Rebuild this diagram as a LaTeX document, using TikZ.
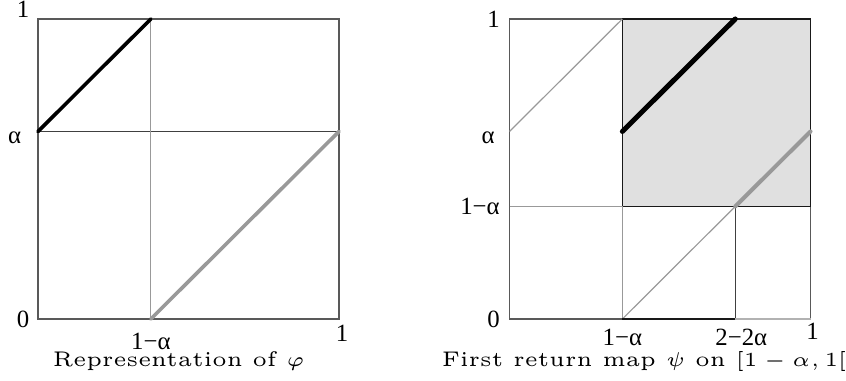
\documentclass[tikz,border=0pt]{standalone}
\usepackage{fontspec}
\newfontfamily\labfont{Liberation Serif}
\usetikzlibrary{positioning}

\begin{document}
\begin{tikzpicture}[
		x=0.25pt, y=0.25pt,
		frame/.style={draw=black!65, line width=.3pt},
		guide/.style={draw=black!40, line width=.3pt},
		darkguide/.style={draw=black!75, line width=.3pt},
		upper/.style={draw=black, line width=.9pt, line cap=round},
		lower/.style={draw=black!40, line width=.9pt, line cap=round},
		shade/.style={fill=black!12, draw=black!90, line width=.3pt},
		tick/.style={inner sep=0pt, font=\fontsize{6.2}{7}\selectfont\labfont},
		caption/.style={inner sep=0pt, anchor=base west, font=\fontsize{5.3}{6}\selectfont}
		]
		\useasboundingbox (0,0) rectangle (846,381);
		
		% representation of phi
		\begin{scope}[shift={(38,62)}, x=75.25pt, y=75pt]
			\coordinate (l00) at (0,0);
			\coordinate (l10) at (1,0);
			\coordinate (l01) at (0,1);
			\coordinate (l11) at (1,1);
			\coordinate (l0a) at (0,0.625);
			\coordinate (l1a) at (1,0.625);
			\coordinate (lc0) at (0.375,0);
			\coordinate (lc1) at (0.375,1);
			
			\draw[frame] (l00) rectangle (l11);
			\draw[darkguide] (l0a) -- (l1a);
			\draw[guide] (lc0) -- (lc1);
			\draw[upper] (l0a) -- (lc1);
			\draw[lower] (lc0) -- (l1a);
			
			\node[tick, above left=0.25pt and 2pt of l01] (ly1) {1};
			\node[tick, below left=0pt and 4pt of l0a] (lya) {α};
			\node[tick, left=2pt of l00] (ly0) {0};
			\node[tick, below=3.25pt of lc0] (lxc) {1−α};
			\node[tick, below=1.25pt of l10, xshift=.75pt] (lx1) {1};
		\end{scope}
		
		% first return map psi
		\begin{scope}[shift={(509.5,62)}, x=75.25pt, y=75pt]
			\coordinate (r00) at (0,0);
			\coordinate (r10) at (1,0);
			\coordinate (r01) at (0,1);
			\coordinate (r11) at (1,1);
			\coordinate (r0a) at (0,0.625);
			\coordinate (r0b) at (0,0.375);
			\coordinate (r1a) at (1,0.625);
			\coordinate (rc0) at (0.375,0);
			\coordinate (rcb) at (0.375,0.375);
			\coordinate (rca) at (0.375,0.625);
			\coordinate (rc1) at (0.375,1);
			\coordinate (rd0) at (0.75,0);
			\coordinate (rdb) at (0.75,0.375);
			\coordinate (rd1) at (0.75,1);
			
			\draw[frame] (r00) rectangle (r11);
			\draw[shade] (rcb) rectangle (r11);
			\draw[guide] (r0a) -- (rc1);
			\draw[guide] (r0b) -- (rcb);
			\draw[guide] (rc0) -- (rcb);
			\draw[guide] (rc0) -- (rdb);
			\draw[darkguide] (rd0) -- (rdb);
			\draw[upper, line width=1.25pt] (rca) -- (rd1);
			\draw[lower, line width=1pt] (rdb) -- (r1a);
			\draw[draw=black!90, line width=.5pt] (rc0) -- (rd0);
			\draw[draw=black!30, line width=.5pt] (rd0) -- (r10);
			
			\node[tick, left=2.25pt of r01] (ry1) {1};
			\node[tick, below left=0pt and 3.5pt of r0a] (rya) {α};
			\node[tick, left=2.25pt of r0b] (ryb) {1−α};
			\node[tick, left=2.25pt of r00] (ry0) {0};
			\node[tick, below=2.25pt of rc0] (rxc) {1−α};
			\node[tick, below=2.25pt of rd0, xshift=1.5pt] (rxd) {2−2α};
			\node[tick, below=.75pt of r10, xshift=.5pt] (rx1) {1};
		\end{scope}
		
		\node[caption] (capl) at (52,14) {Representation of $\varphi$};
		\node[caption] (capr) at (441,14) {First return map $\psi$ on $[1-\alpha,1[$};
		
	\end{tikzpicture}
\end{document}
